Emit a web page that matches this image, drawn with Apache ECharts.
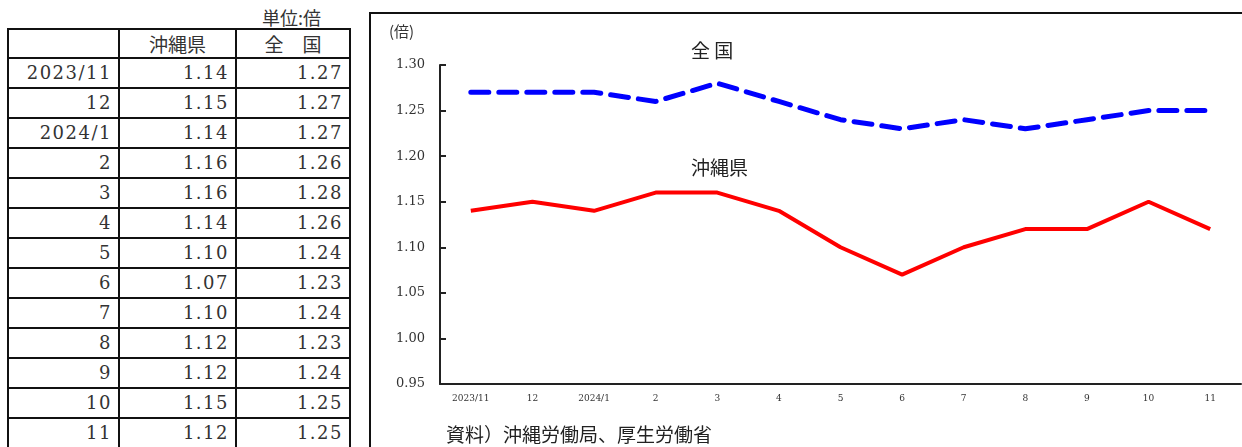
<!DOCTYPE html>
<html>
<head>
<meta charset="utf-8">
<script src="https://cdn.jsdelivr.net/npm/echarts@6/dist/echarts.min.js"></script>
<style>
  html, body { margin: 0; padding: 0; background: #fff; }
  body { width: 1242px; height: 447px; position: relative; overflow: hidden; }
  #unit { position: absolute; left: 262px; top: 6px; font: 18px "Noto Sans CJK JP", sans-serif; color: #333; line-height: 22px; }
  #tbl { position: absolute; left: 7px; top: 28px; border-collapse: collapse; table-layout: fixed; }
  #tbl td { border: 2px solid #111; padding: 0 6px 0 0; text-align: right; font: 18px "DejaVu Serif", serif; letter-spacing: 1.5px; color: #333; height: 28.3px; line-height: 28px; box-sizing: border-box; overflow: hidden; white-space: nowrap; vertical-align: bottom; }
  #tbl tr.head td { height: 28px; text-align: center; padding: 0; font: 19px "Noto Sans CJK JP", sans-serif; letter-spacing: 0; vertical-align: middle; }
  #frame { position: absolute; left: 369px; top: 12px; width: 900px; height: 460px; border: 2px solid #111; box-sizing: border-box; }
  #chart { position: absolute; left: 0; top: 0; width: 1242px; height: 447px; }
</style>
</head>
<body>
<div id="unit">単位:倍</div>
<table id="tbl"></table>
<div id="frame"></div>
<div id="chart"></div>
<script>
// Monthly job-opening ratio, Okinawa vs. nationwide
const months = ['2023/11', '12', '2024/1', '2', '3', '4', '5', '6', '7', '8', '9', '10', '11'];
const okinawa = [1.14, 1.15, 1.14, 1.16, 1.16, 1.14, 1.10, 1.07, 1.10, 1.12, 1.12, 1.15, 1.12];
const national = [1.27, 1.27, 1.27, 1.26, 1.28, 1.26, 1.24, 1.23, 1.24, 1.23, 1.24, 1.25, 1.25];
const headers = ['', '沖縄県', '全　国'];

// Data table on the left
const tbl = document.getElementById('tbl');
const colWidths = [111, 117, 114];
const colgroup = document.createElement('colgroup');
colWidths.forEach(w => { const c = document.createElement('col'); c.style.width = w + 'px'; colgroup.appendChild(c); });
tbl.appendChild(colgroup);
const hr = document.createElement('tr');
hr.className = 'head';
headers.forEach(h => { const td = document.createElement('td'); td.textContent = h; hr.appendChild(td); });
tbl.appendChild(hr);
months.forEach((m, i) => {
  const tr = document.createElement('tr');
  [m, okinawa[i].toFixed(2), national[i].toFixed(2)].forEach(v => {
    const td = document.createElement('td'); td.textContent = v; tr.appendChild(td);
  });
  tbl.appendChild(tr);
});

// Line chart on the right
const chart = echarts.init(document.getElementById('chart'), null, { renderer: 'canvas' });
const jp = '"Noto Sans CJK JP", sans-serif';
const serif = '"DejaVu Serif", serif';
chart.setOption({
  animation: false,
  grid: { left: 440, top: 65, right: 1, bottom: 63 },
  xAxis: {
    type: 'category',
    data: months,
    boundaryGap: true,
    axisLine: { lineStyle: { color: '#222', width: 2 } },
    axisTick: { show: false },
    axisLabel: { color: '#333', fontFamily: serif, fontSize: 9, margin: 10 }
  },
  yAxis: {
    type: 'value',
    min: 0.95,
    max: 1.30,
    interval: 0.05,
    axisLine: { show: true, lineStyle: { color: '#222', width: 2 } },
    axisTick: { show: true, inside: true, length: 6, lineStyle: { color: '#222', width: 2 } },
    splitLine: { show: false },
    axisLabel: { color: '#333', fontFamily: serif, fontSize: 13, margin: 15, formatter: v => v.toFixed(2) }
  },
  series: [
    {
      name: '全　国',
      type: 'line',
      data: national,
      symbol: 'none',
      lineStyle: { color: '#0000ff', width: 5, type: [18, 10], cap: 'round' }
    },
    {
      name: '沖縄県',
      type: 'line',
      data: okinawa,
      symbol: 'none',
      lineStyle: { color: '#ff0000', width: 4 }
    }
  ],
  graphic: [
    { type: 'text', left: 389, top: 24, style: { text: '(倍)', font: '15px ' + jp, fill: '#333' } },
    { type: 'text', left: 691, top: 41, style: { text: '全 国', font: '19px ' + jp, fill: '#222' } },
    { type: 'text', left: 691, top: 158, style: { text: '沖縄県', font: '19px ' + jp, fill: '#222' } },
    { type: 'text', left: 446, top: 425, style: { text: '資料）沖縄労働局、厚生労働省', font: '19px ' + jp, fill: '#222' } }
  ]
});
</script>
</body>
</html>
